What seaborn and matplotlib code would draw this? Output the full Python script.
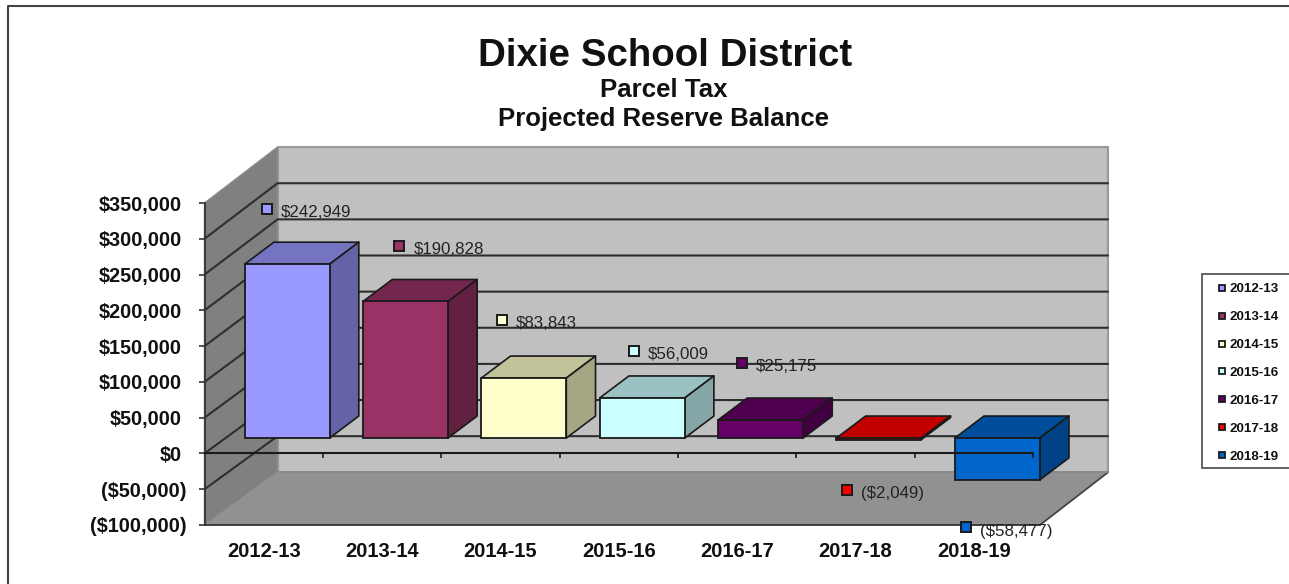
import matplotlib
matplotlib.use("Agg")
import matplotlib.pyplot as plt
from matplotlib.lines import Line2D
from matplotlib.patches import Polygon, Rectangle
from matplotlib.transforms import offset_copy, ScaledTranslation
from matplotlib.colors import to_rgb
import pandas as pd
import seaborn as sns

years = ["2012-13", "2013-14", "2014-15", "2015-16", "2016-17", "2017-18", "2018-19"]
balances = [242949, 190828, 83843, 56009, 25175, -2049, -58477]
bar_colors = ["#9999FF", "#993366", "#FFFFCC", "#CCFFFF", "#660066", "#FF0000", "#0066CC"]
y_ticks = [-100000, -50000, 0, 50000, 100000, 150000, 200000, 250000, 300000, 350000]

# label anchor offsets from each bar (pixels)
label_dx = [-17, -3, -19, -5, -16, -29, -28]
label_dy = [55, 55, 58, 47, 57, -50, -47]
text_drop = [3, 3, 3, 4, 3, 4, 5]

W, H = 1289, 584
sns.set_theme(style="white")
plt.rcParams["font.family"] = ["Liberation Sans", "DejaVu Sans"]

fig = plt.figure(figsize=(W / 100, H / 100), dpi=100, facecolor="white")
L, R, T, B = 204.5, 1033.0, 203.0, 525.0
ax = fig.add_axes([L / W, 1 - B / H, (R - L) / W, (B - T) / H])
ax.set_xlim(-0.5, 6.5)
ax.set_ylim(-100000, 350000)
ax.patch.set_alpha(0)

px_x = (R - L) / 7          # pixels per category
px_y = (B - T) / 450000     # pixels per dollar
DEPTH_X, DEPTH_Y = 73.0, 55.0


def proj(x, y, d):
    """Data coordinates of a point pushed back by fraction d of the floor depth."""
    return (x + d * DEPTH_X / px_x, y + d * DEPTH_Y / px_y)


def back(x, y):
    """Point on the rear wall, whose scale is very slightly larger than the front one."""
    return (x + DEPTH_X / px_x, y * 1.01 + 53.4 / px_y)


def face(points, fc, ec="none", lw=0.0, z=1.0):
    ax.add_patch(Polygon(points, closed=True, facecolor=fc, edgecolor=ec, linewidth=lw,
                         zorder=z, clip_on=False, joinstyle="round"))


x0, x1 = -0.5, 6.5
y0, y1 = y_ticks[0], y_ticks[-1]
xb1 = x1 + 2 / px_x         # rear wall right end
xf1 = x1 + 7 / px_x         # floor front right end

# walls and floor
face([back(x0, y0), back(xb1, y0), back(xb1, y1), back(x0, y1)], "#C0C0C0", "#999999", 1.5, 1.0)
face([(x0, y0), back(x0, y0), back(x0, y1), (x0, y1)], "#808080", "#8C8C8C", 1.0, 1.1)
face([(x0, y0), (xf1, y0), back(xb1, y0), back(x0, y0)], "#919191", "none", 0, 1.2)

# floor edges
for a, b, c in [((x0, y0), (xf1, y0), "#333333"),
                ((xf1, y0), back(xb1, y0), "#444444"),
                (back(x0, y0), back(xb1, y0), "#8A8A8A")]:
    ax.plot([a[0], b[0]], [a[1], b[1]], color=c, lw=1.3, zorder=1.4, clip_on=False)

# gridlines on back wall and side wall
for v in y_ticks[1:-1]:
    b, c = back(x0, v), back(xb1, v)
    ax.plot([x0, b[0], c[0]], [v, b[1], c[1]], color="#2E2E2E", lw=1.5, zorder=1.3, clip_on=False)

# bars
df = pd.DataFrame({"year": years, "balance": balances})
sns.barplot(data=df, x="year", y="balance", hue="year", hue_order=years, order=years,
            palette=bar_colors, width=0.718, dodge=False, legend=False, saturation=1,
            edgecolor="#1A1A1A", linewidth=1.3, zorder=3, ax=ax)
ax.set_xlim(-0.5, 6.5)
ax.set_ylim(-100000, 350000)

D_FRONT, D_BAR = 0.28, 0.40
BAR_SHIFT = 3 / px_x
bars = [p for p in ax.patches if isinstance(p, Rectangle) and p.get_width() > 0]
bars.sort(key=lambda p: p.get_x())
for i, p in enumerate(bars):
    xa = p.get_x() + BAR_SHIFT
    xb = xa + p.get_width()
    ya = min(p.get_y(), p.get_y() + p.get_height())
    yb = max(p.get_y(), p.get_y() + p.get_height())
    sx, sy = proj(xa, ya, D_FRONT)
    p.set_x(sx)
    p.set_y(sy)
    p.set_height(yb - ya)
    p.set_clip_on(False)
    p.set_zorder(3 + i * 0.1 + 0.02)
    rgb = to_rgb(bar_colors[i])
    top_c = tuple(c * 0.76 for c in rgb)
    side_c = tuple(c * 0.65 for c in rgb)
    d0, d1 = D_FRONT, D_FRONT + D_BAR
    z = 3 + i * 0.1
    face([proj(xa, yb, d0), proj(xb, yb, d0), proj(xb, yb, d1), proj(xa, yb, d1)],
         top_c, "#1A1A1A", 1.2, z)
    face([proj(xb, ya, d0), proj(xb, ya, d1), proj(xb, yb, d1), proj(xb, yb, d0)],
         side_c, "#1A1A1A", 1.2, z + 0.01)

# zero axis line with boundary ticks, in front of the bars
ax.plot([x0, x1], [0, 0], color="#1A1A1A", lw=1.5, zorder=5, clip_on=False)
ax.vlines([i + 0.5 for i in range(7)], -5 / px_y, 0, color="#1A1A1A", lw=1.2, zorder=5, clip_on=False)

# axes furniture
for s in ["top", "right", "bottom"]:
    ax.spines[s].set_visible(False)
ax.spines["left"].set_color("#333333")
ax.spines["left"].set_linewidth(1.3)
ax.spines["left"].set_zorder(2)
ax.set_xlabel("")
ax.set_ylabel("")
ax.set_xticks(range(7))
ax.set_xticklabels(years, fontsize=14.5, fontweight="bold", color="#111111")
ax.set_yticks(y_ticks)


def money(v):
    return f"${v:,.0f}" if v >= 0 else f"(${-v:,.0f})"


ax.set_yticklabels([money(v) for v in y_ticks], fontsize=14.3, fontweight="bold", color="#111111")
ax.tick_params(axis="x", length=0, pad=12.5)
ax.tick_params(axis="y", left=True, length=4, width=1.2, color="#333333", pad=12.5)
# closing brackets hang past the right edge of the other tick labels
for lab, v in zip(ax.get_yticklabels(), y_ticks):
    if v < 0:
        lab.set_transform(lab.get_transform() + ScaledTranslation(5 / 100, 0, fig.dpi_scale_trans))

# data labels
for i, v in enumerate(balances):
    dx, dy = label_dx[i], label_dy[i]
    sx, sy = proj(i, v, D_FRONT)
    tr = offset_copy(ax.transData, fig=fig, x=dx, y=dy, units="dots")
    ax.plot([sx], [sy], marker="s", ms=6.5, mfc=bar_colors[i], mec="#1A1A1A", mew=1.4,
            transform=tr, zorder=6, clip_on=False, ls="none")
    ax.annotate(money(v), xy=(sx, sy), xytext=(dx + 14, dy - text_drop[i]), textcoords="offset pixels",
                fontsize=12.2, color="#222222", va="center", ha="left", zorder=6,
                annotation_clip=False)

# legend
fig.add_artist(Rectangle((1202 / W, 1 - 468 / H), 100 / W, 194 / H, transform=fig.transFigure,
                         facecolor="white", edgecolor="#555555", linewidth=1.3))
handles = [Line2D([], [], marker="s", ls="none", ms=5, mfc=c, mec="#1A1A1A", mew=1.3, label=y)
           for y, c in zip(years, bar_colors)]
leg = fig.legend(handles=handles, loc="upper left", bbox_to_anchor=(1214 / W, 1 - 283 / H),
                 frameon=False, borderpad=0, borderaxespad=0, handlelength=1.2, handletextpad=-0.05,
                 labelspacing=1.17, prop={"size": 9.6, "weight": "bold"}, labelcolor="#111111")
leg.set_zorder(10)

# outer frame
fig.add_artist(Line2D([8 / W, 8 / W, 1], [0, 1 - 6 / H, 1 - 6 / H], transform=fig.transFigure,
                      color="#444444", lw=1.5))

# titles
fig.text(665.5 / W, 1 - 56 / H, "Dixie School District", ha="center", va="center",
         fontsize=27.7, fontweight="bold", color="#111111")
fig.text(663.5 / W, 1 - 90 / H, "Parcel Tax", ha="center", va="center",
         fontsize=18.6, fontweight="bold", color="#111111")
fig.text(663.5 / W, 1 - 119 / H, "Projected Reserve Balance", ha="center", va="center",
         fontsize=18.5, fontweight="bold", color="#111111")

fig.savefig("out.png", dpi=100, facecolor="white")
